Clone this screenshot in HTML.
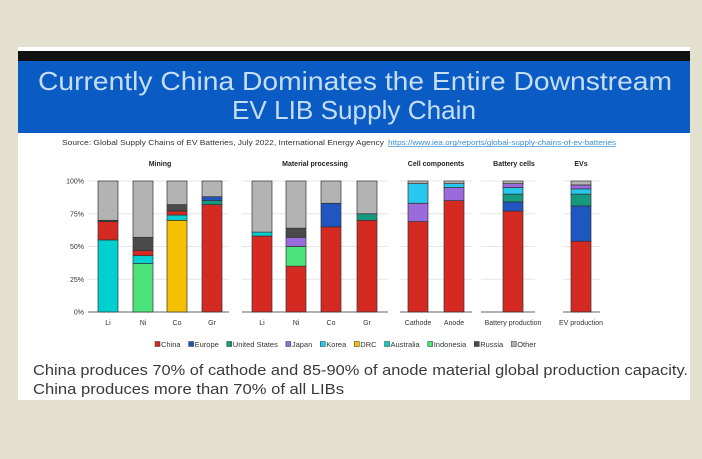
<!DOCTYPE html>
<html><head><meta charset="utf-8"><style>
html,body{margin:0;padding:0;background:#e4e0d0;}
svg{display:block;font-family:"Liberation Sans",Arial,sans-serif;}
</style></head><body>
<svg id="s" width="702" height="459" viewBox="0 0 702 459" xmlns="http://www.w3.org/2000/svg">
<rect x="0" y="0" width="702" height="459" fill="#e4e0d0"/>
<rect x="18" y="47" width="672" height="353" fill="#ffffff"/>
<rect x="18" y="51" width="672" height="10" fill="#111111"/>
<rect x="18" y="61" width="672" height="72" fill="#0a5cc4"/>
<text x="355" y="90" text-anchor="middle" font-size="26" fill="#c6def5" textLength="634" lengthAdjust="spacingAndGlyphs">Currently China Dominates the Entire Downstream</text>
<text x="354" y="119" text-anchor="middle" font-size="26" fill="#c6def5" textLength="244" lengthAdjust="spacingAndGlyphs">EV LIB Supply Chain</text>
<text x="62" y="145" font-size="7" fill="#333" textLength="322" lengthAdjust="spacingAndGlyphs">Source: Global Supply Chains of EV Batteries, July 2022, International Energy Agency</text>
<text x="388" y="145" font-size="7" fill="#3b8fd6" text-decoration="underline" textLength="228" lengthAdjust="spacingAndGlyphs">https://www.iea.org/reports/global-supply-chains-of-ev-batteries</text>
<g id="chart"></g>
<g id="legend"></g>
<text x="33" y="375" font-size="15" fill="#3a3a3a" textLength="655" lengthAdjust="spacingAndGlyphs">China produces 70% of cathode and 85-90% of anode material global production capacity.</text>
<text x="33" y="394" font-size="15" fill="#3a3a3a" textLength="311" lengthAdjust="spacingAndGlyphs">China produces more than 70% of all LIBs</text>
</svg>
<script>
const C={ch:"#d42a22",eu:"#1f56c0",us:"#159a80",jp:"#9b6bdc",ko:"#29c6ee",drc:"#f5c000",au:"#00d0d0",id:"#4be37a",ru:"#4a4a4a",ot:"#b3b3b3"};
const y0=312,H=131;
const bars=[
[98,"Li",[["au",55],["ch",14],["ru",1],["ot",30]]],
[133,"Ni",[["id",37],["au",6],["ch",4],["ru",10],["ot",43]]],
[167,"Co",[["drc",70],["au",4],["ch",3],["ru",5],["ot",18]]],
[202,"Gr",[["ch",82],["us",3],["eu",3],["ot",12]]],
[252,"Li",[["ch",58],["au",3],["ot",39]]],
[286,"Ni",[["ch",35],["id",15],["jp",7],["ru",7],["ot",36]]],
[321,"Co",[["ch",65],["eu",18],["ot",17]]],
[357,"Gr",[["ch",70],["us",5],["ot",25]]],
[408,"Cathode",[["ch",69],["jp",14],["ko",15],["ot",2]]],
[444,"Anode",[["ch",85],["jp",10],["ko",3],["ot",2]]],
[503,"Battery production",[["ch",77],["eu",7],["us",6],["ko",5],["jp",3],["ot",2]]],
[571,"EV production",[["ch",54],["eu",27],["us",9],["ko",4],["jp",3],["ot",3]]]
];
const groups=[[88,229,"Mining",160],[242,388,"Material processing",315],[400,472,"Cell components",436],[481,535,"Battery cells",514],[563,600,"EVs",581]];
let s="";
groups.forEach(g=>{
 [25,50,75,100].forEach(p=>{const y=y0-H*p/100;s+=`<line x1="${g[0]}" x2="${g[1]}" y1="${y}" y2="${y}" stroke="#e6e6e6" stroke-width="1"/>`;});
 s+=`<line x1="${g[0]}" x2="${g[1]}" y1="${y0}" y2="${y0}" stroke="#666" stroke-width="1"/>`;
 s+=`<text x="${g[3]}" y="166" text-anchor="middle" font-size="7" font-weight="bold" fill="#222">${g[2]}</text>`;
});
[0,25,50,75,100].forEach(p=>{const y=y0-H*p/100;s+=`<text x="84" y="${y+2.5}" text-anchor="end" font-size="7" fill="#333">${p}%</text>`;});
bars.forEach(b=>{
 let acc=0;
 b[2].forEach(seg=>{const h=H*seg[1]/100;const y=y0-H*(acc+seg[1])/100;s+=`<rect x="${b[0]}" y="${y}" width="20" height="${h}" fill="${C[seg[0]]}" stroke="#333" stroke-width="0.7"/>`;acc+=seg[1];});
 s+=`<text x="${b[0]+10}" y="325" text-anchor="middle" font-size="7" fill="#333">${b[1]}</text>`;
});
document.getElementById("chart").innerHTML=s;
const leg=[["ch","China"],["eu","Europe"],["us","United States"],["jp","Japan"],["ko","Korea"],["drc","DRC"],["au","Australia"],["id","Indonesia"],["ru","Russia"],["ot","Other"]];
const lg=document.getElementById("legend");
const NS="http://www.w3.org/2000/svg";
let x=155;
leg.forEach(l=>{
 const r=document.createElementNS(NS,"rect");
 r.setAttribute("x",x);r.setAttribute("y",341.5);r.setAttribute("width",5);r.setAttribute("height",5);
 r.setAttribute("fill",C[l[0]]);r.setAttribute("stroke","#333");r.setAttribute("stroke-width","0.5");
 lg.appendChild(r);
 const t=document.createElementNS(NS,"text");
 t.setAttribute("x",x+6);t.setAttribute("y",347);t.setAttribute("font-size","7.5");t.setAttribute("fill","#333");
 t.textContent=l[1];lg.appendChild(t);
 let w=t.getComputedTextLength();if(!w)w=l[1].length*3.8;
 x+=6+w+8;
});
</script>
</body></html>
